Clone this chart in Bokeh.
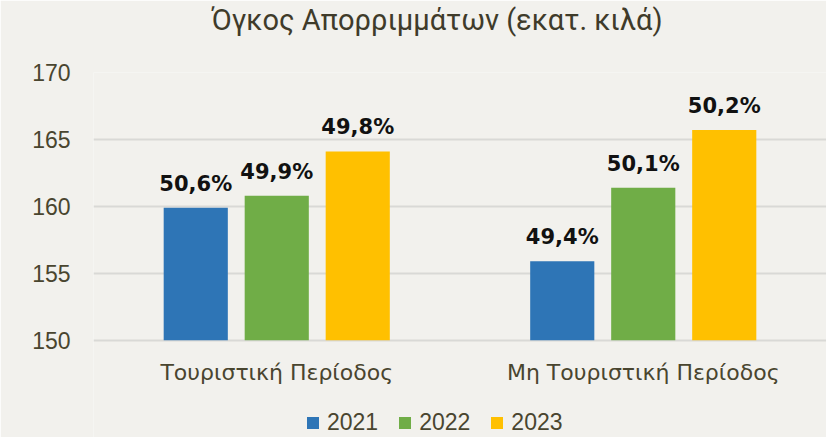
from bokeh.plotting import figure
from bokeh.models import (ColumnDataSource, FactorRange, Legend, LegendItem, FixedTicker,
                          Title, Range1d)
from bokeh.transform import dodge
from bokeh.core.properties import value
from bokeh.embed import file_html
from bokeh.resources import INLINE

categories = ["Τουριστική Περίοδος", "Μη Τουριστική Περίοδος"]
years = ["2021", "2022", "2023"]
v2021 = [159.9, 155.9]
v2022 = [160.8, 161.4]
v2023 = [164.1, 165.7]
lab2021 = ["50,6%", "49,4%"]
lab2022 = ["49,9%", "50,1%"]
lab2023 = ["49,8%", "50,2%"]
colors = ["#2e75b6", "#70ad47", "#ffc000"]
y_min, y_max, y_step = 150, 170, 5

BG = "#f2f1ed"
TXT = "#49452f"
FONT = "Liberation Sans"

# layout (pixels)
W, H = 826, 437
FRAME_TOP = 73          # top of the plotting area
VALUE_AREA_H = 267      # pixel height of the 150..170 value span
frame_h = H - FRAME_TOP
y_start = y_max - (y_max - y_min) * frame_h / VALUE_AREA_H

src = ColumnDataSource(dict(cat=categories, v2021=v2021, v2022=v2022, v2023=v2023,
                            l2021=lab2021, l2022=lab2022, l2023=lab2023))

p = figure(x_range=FactorRange(*categories), y_range=Range1d(y_start, y_max),
           width=W, height=H, output_backend="svg", toolbar_location=None,
           x_axis_location=None,
           min_border_left=93, min_border_right=0, min_border_top=0, min_border_bottom=0,
           title="Όγκος Απορριμμάτων (εκατ. κιλά)")
p.background_fill_color = BG
p.border_fill_color = BG
p.outline_line_color = None

p.title.align = "left"
p.title.offset = 118
p.title.standoff = 0
p.title.text_font = "Roboto"
p.title.text_font_style = "normal"
p.title.text_font_size = "29px"
p.title.text_color = "#3f3b2a"
# empty spacer between the title and the plot area
p.add_layout(Title(text=" ", text_font_size="1px", standoff=33), "above")

offsets = [-0.221, 0.0, 0.221]
bars = []
for yr, col, off in zip(years, colors, offsets):
    r = p.vbar(x=dodge("cat", off, range=p.x_range), top="v" + yr, bottom=y_min, width=0.175,
               source=src, fill_color=col, line_color=None)
    bars.append(r)
    p.text(x=dodge("cat", off, range=p.x_range), y="v" + yr, text="l" + yr, source=src,
           text_align="center", text_baseline="alphabetic", y_offset=-24,
           text_font=value("DejaVu Sans"), text_font_style="bold", text_font_size="21px",
           text_color="#111111")

# category labels under the bars
p.text(x="cat", y=y_min, text="cat", source=src, text_align="center",
       text_baseline="alphabetic", y_offset=32,
       text_font=value("DejaVu Sans"), text_font_size="22px", text_color=TXT)

p.yaxis.ticker = FixedTicker(ticks=list(range(y_min, y_max + 1, y_step)))
p.yaxis.axis_line_color = None
p.yaxis.major_tick_line_color = None
p.yaxis.minor_tick_line_color = None
p.yaxis.major_label_standoff = 17
p.yaxis.major_label_text_font = FONT
p.yaxis.major_label_text_font_size = "23px"
p.yaxis.major_label_text_color = TXT

p.xgrid.grid_line_color = None
p.ygrid.grid_line_color = "#d9d9d6"
p.ygrid.grid_line_width = 2

legend = Legend(items=[LegendItem(label=yr, renderers=[r]) for yr, r in zip(years, bars)],
                orientation="horizontal", location=(212, 1),
                glyph_width=15, glyph_height=15, label_standoff=7, spacing=19,
                padding=0, margin=0, border_line_color=None, background_fill_alpha=0,
                label_text_font=FONT, label_text_font_size="23px", label_text_color=TXT)
p.add_layout(legend)

open("out.html", "w").write(file_html(p, INLINE))
